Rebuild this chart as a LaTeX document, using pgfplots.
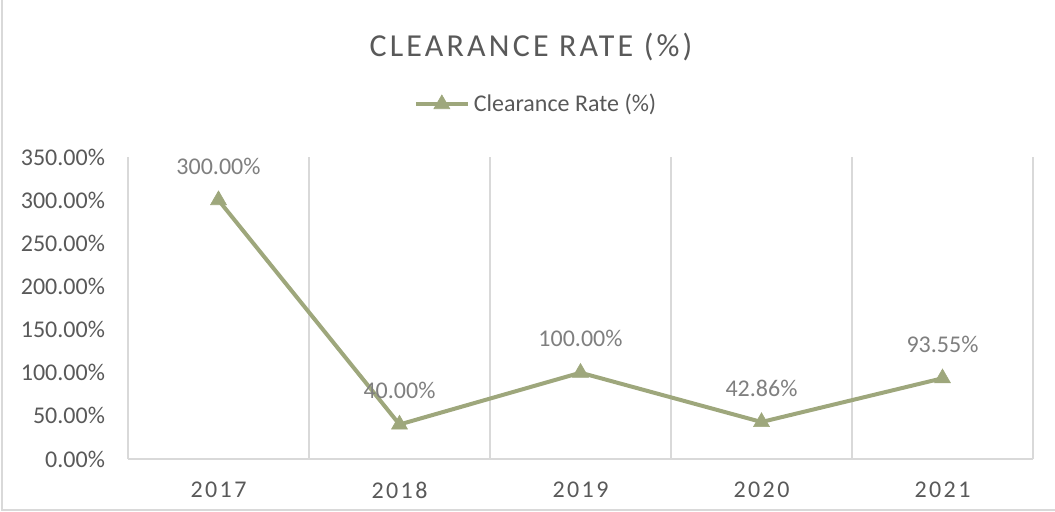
\documentclass[border=0pt]{standalone}
\usepackage{fontspec}
\setmainfont{Carlito}
\usepackage{pgfplots}
\pgfplotsset{compat=1.18}
\definecolor{lineg}{RGB}{158,167,124}
\definecolor{tickg}{RGB}{89,89,89}
\definecolor{labg}{RGB}{127,127,127}
\definecolor{gridg}{RGB}{217,217,217}
\begin{document}
\begin{tikzpicture}
\useasboundingbox (0,0) rectangle (527.5pt,256pt);
\draw[gridg, line width=0.6pt] (1pt,256pt) -- (1pt,1pt) -- (527.5pt,1pt);
\node[tickg, font=\fontsize{16}{19}\selectfont\addfontfeature{LetterSpace=10}] at (265.5pt,232.5pt) {CLEARANCE RATE (\%)};
\begin{axis}[
  at={(64pt,26.5pt)}, anchor=south west,
  scale only axis, width=452.5pt, height=151pt,
  xmin=-0.5, xmax=4.5, ymin=0, ymax=350,
  xtick={0,1,2,3,4}, xticklabels={2017,2018,2019,2020,2021},
  ytick={0,50,...,350},
  minor xtick={-0.5,0.5,1.5,2.5,3.5,4.5},
  xminorgrids, minor grid style={gridg, line width=0.75pt},
  major tick length=0pt, minor tick length=0pt,
  axis x line*=bottom, axis y line*=left,
  x axis line style={gridg, line width=0.75pt, -},
  y axis line style={draw=none},
  ytick style={draw=none},
  yticklabel={\pgfmathprintnumber[fixed,fixed zerofill,precision=2]{\tick}\%},
  /pgf/number format/assume math mode=true,
  yticklabel style={font=\fontsize{12}{14}\selectfont, text=tickg, xshift=-8pt},
  xticklabel style={font=\fontsize{12}{14}\selectfont\addfontfeature{LetterSpace=10}, text=tickg, yshift=-8pt},
  clip=false,
  legend style={at={(0.452,1.175)}, anchor=center, draw=none, fill=none, legend columns=-1,
    font=\fontsize{12}{14}\selectfont, text=tickg},
  legend image code/.code={\draw[mark repeat=2,mark phase=2,#1] plot coordinates {(0pt,0pt) (13pt,0pt) (26pt,0pt)};},
  nodes near coords, point meta=explicit symbolic,
  every node near coord/.append style={anchor=center, yshift=17pt, text=labg, font=\fontsize{12}{14}\selectfont},
]
\addplot[lineg, line width=2pt, mark=triangle*, mark size=4.6pt, mark options={fill=lineg, draw=lineg, line width=0.3pt}]
  coordinates {(0,300) [300.00\%] (1,40) [40.00\%] (2,100) [100.00\%] (3,42.86) [42.86\%] (4,93.55) [93.55\%]};
\addlegendentry{Clearance Rate (\%)}
\end{axis}
\end{tikzpicture}
\end{document}
